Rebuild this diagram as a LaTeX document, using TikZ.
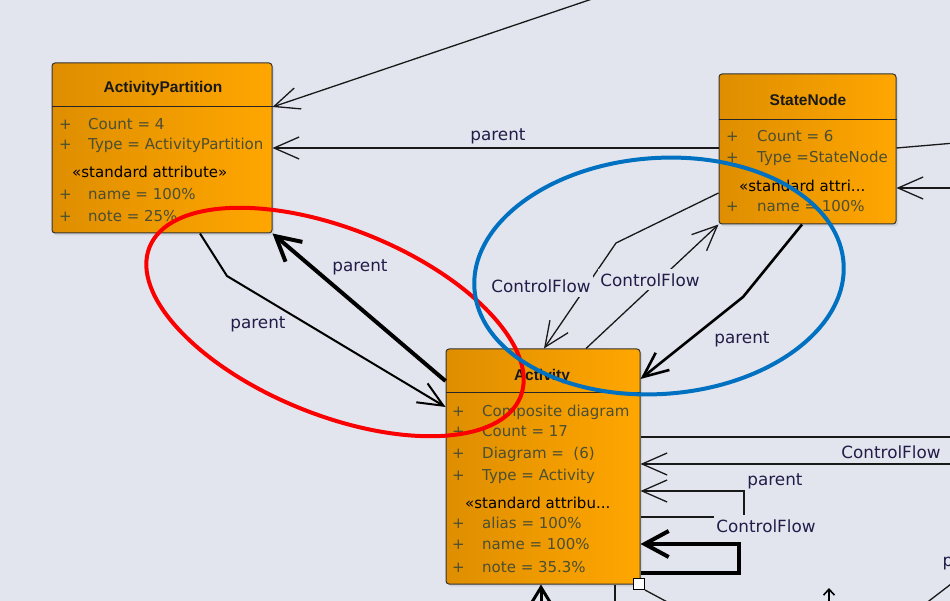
\documentclass[tikz,border=0pt]{standalone}
\usepackage{fontspec}
\setmainfont{DejaVu Sans}
\newfontfamily\titlefont{Liberation Sans}
\usetikzlibrary{arrows.meta,shadows}
\definecolor{bg}{RGB}{226,229,238}
\definecolor{boxl}{RGB}{222,142,0}
\definecolor{boxr}{RGB}{255,166,0}
\definecolor{attc}{RGB}{74,78,52}
\definecolor{lblc}{RGB}{35,28,72}
\definecolor{redc}{RGB}{250,0,0}
\definecolor{bluec}{RGB}{0,112,192}
\begin{document}
\begin{tikzpicture}[x=1pt,y=-1pt,
 umlbox/.style={draw=black!80, line width=1pt, rounded corners=3pt, left color=boxl, right color=boxr, inner sep=0pt,
   drop shadow={shadow xshift=2pt,shadow yshift=-2.5pt,opacity=0.18}},
 divider/.style={draw=black!85, line width=1pt},
 att/.style={font=\fontsize{15}{18}\selectfont, text=attc, anchor=base west, inner sep=0pt},
 ster/.style={font=\fontsize{15}{18}\selectfont, text=black, anchor=base west, inner sep=0pt},
 ttl/.style={font=\titlefont\fontsize{15.5}{18}\selectfont\bfseries, text=black!90, anchor=base, inner sep=0pt},
 lbl/.style={font=\fontsize{16.8}{20}\selectfont, text=lblc, inner sep=1.5pt},
 lblf/.style={lbl, fill=bg, inner xsep=2pt, inner ysep=4pt},
 link/.style={draw=black!90, line width=1.3pt, line join=miter},
 medlink/.style={draw=black, line width=2pt},
 semilink/.style={draw=black, line width=2.6pt},
 boldlink/.style={draw=black, line width=4pt},
 oarr/.style={-{Straight Barb[length=25pt,width=22pt]}},
 oarrb/.style={-{Straight Barb[length=24pt,width=26pt]}},
 sq/.style={draw=black, fill=white, line width=1pt, minimum size=11pt, inner sep=0pt}
]
\useasboundingbox (0,0) rectangle (950,601);
\fill[bg] (0,0) rectangle (950,601);

% ---------- boxes ----------
\node[umlbox, minimum width=220pt, minimum height=170pt] (ap) at (162,148) {};
\node[umlbox, minimum width=177pt, minimum height=150pt] (sn) at (807.5,149) {};
\node[umlbox, minimum width=194pt, minimum height=235pt] (act) at (543,466.5) {};

\draw[divider] (ap.west |- 0,107) -- (ap.east |- 0,107);
\draw[divider] (sn.west |- 0,120) -- (sn.east |- 0,120);
\draw[divider] (act.west |- 0,392) -- (act.east |- 0,392);

% ActivityPartition texts
\node[ttl] (apt) at (163,93) {ActivityPartition};
\node[att] (ap1p) at (59,130) {+};
\node[att] (ap1) at (88,130) {Count = 4};
\node[att] (ap2p) at (59,150) {+};
\node[att] (ap2) at (88,150) {Type = ActivityPartition};
\node[ster] (ap3) at (72,178) {«standard attribute»};
\node[att] (ap4p) at (59,200) {+};
\node[att] (ap4) at (88,200) {name = 100\%};
\node[att] (ap5p) at (59,222) {+};
\node[att] (ap5) at (88,222) {note = 25\%};

% StateNode texts
\node[ttl] (snt) at (808,106) {StateNode};
\node[att] (sn1p) at (726,142) {+};
\node[att] (sn1) at (757,142) {Count = 6};
\node[att] (sn2p) at (726,163) {+};
\node[att] (sn2) at (757,163) {Type =StateNode};
\node[ster] (sn3) at (739,192) {«standard attri...};
\node[att] (sn4p) at (726,212) {+};
\node[att] (sn4) at (757,212) {name = 100\%};

% Activity texts
\node[ttl] (actt) at (542,381) {Activity};
\node[att] (ac1p) at (452,416) {+};
\node[att] (ac1) at (482,416) {Composite diagram};
\node[att] (ac2p) at (452,436) {+};
\node[att] (ac2) at (482,436) {Count = 17};
\node[att] (ac3p) at (452,458) {+};
\node[att] (ac3) at (482,458) {Diagram =\ \ (6)};
\node[att] (ac4p) at (452,480) {+};
\node[att] (ac4) at (482,480) {Type = Activity};
\node[ster] (ac5) at (465,508) {«standard attribu...};
\node[att] (ac6p) at (452,528) {+};
\node[att] (ac6) at (482,528) {alias = 100\%};
\node[att] (ac7p) at (452,549) {+};
\node[att] (ac7) at (482,549) {name = 100\%};
\node[att] (ac8p) at (452,572) {+};
\node[att] (ac8) at (482,572) {note = 35.3\%};

\node[sq] (corner) at (639,584) {};

% ---------- connectors ----------
\coordinate (offtop) at (598,-3);
\draw[link, oarr] (offtop) -- (ap.east |- 0,107);

\draw[link, oarr] (sn.west |- 0,148) -- (ap.east |- 0,148);
\node[lbl] (l1) at (498,136) {parent};

\coordinate (b3) at (227,276);
\draw[medlink, oarr] (ap.south -| 200,0) -- (b3) -- (act.west |- 0,407);
\node[lbl] (l2) at (258,324) {parent};

\draw[boldlink, oarrb] (act.west |- 0,381) -- (ap.south east);
\node[lbl] (l3) at (360,267) {parent};

\coordinate (b5) at (616,243);
\draw[link, oarr] (sn.west |- 0,193) -- (b5) -- (act.north -| 544,0);
\node[lblf] (l4) at (541,286) {ControlFlow};

\draw[link, oarr] (act.north -| 586,0) -- (sn.south west);
\node[lblf] (l5) at (650,280) {ControlFlow};

\coordinate (b7) at (743,297);
\draw[semilink, oarr] (sn.south -| 802,0) -- (b7) -- (act.east |- 0,379);
\node[lbl] (l6) at (742,339) {parent};

% right of StateNode
\coordinate (snr1) at (955,143);
\coordinate (snr2) at (955,188);
\draw[link] (sn.east |- 0,148) -- (snr1);
\draw[link, oarr] (snr2) -- (sn.east |- 0,188);

% right of Activity
\coordinate (acr1) at (955,437);
\coordinate (acr2) at (955,464);
\draw[link] (act.east |- 0,437) -- (acr1);
\draw[link, oarr] (acr2) -- (act.east |- 0,464);
\node[lbl] (l7) at (891,452) {ControlFlow};

\coordinate (lp1) at (744,517);
\coordinate (lp2) at (744,491);
\draw[link, oarr] (act.east |- 0,517) -- (lp1) -- (lp2) -- (act.east |- 0,491);
\node[lbl] (l8) at (775,481) {parent};
\node[lblf, inner ysep=5pt] (l9) at (766,526) {ControlFlow};

\coordinate (tl1) at (739,573);
\coordinate (tl2) at (739,544);
\draw[boldlink, oarrb] (act.east |- 0,573) -- (tl1) -- (tl2) -- (act.east |- 0,544);

% bottom
\coordinate (bt1) at (541,610);
\draw[line width=3pt, -{Straight Barb[length=18pt,width=22pt]}] (bt1) -- (act.south -| 541,0);
\coordinate (bt2) at (615,606);
\draw[link] (act.south -| 615,0) -- (bt2);
\coordinate (bt3) at (671,604);
\draw[link] (corner.south east) -- (bt3);
\coordinate (bt4) at (829,606);
\coordinate (bt5) at (829,588);
\draw[line width=1.6pt, -{Straight Barb[length=6pt,width=11pt]}] (bt4) -- (bt5);
\coordinate (bt6) at (925,604);
\coordinate (bt7) at (955,581);
\draw[link] (bt6) -- (bt7);
\node[lbl, anchor=west] (l10) at (941,562) {parent};

% ---------- highlight ellipses ----------
\draw[redc, line width=4pt, shift={(335,322)}, rotate=-22] (0,0) ellipse [x radius=200pt, y radius=93pt];
\draw[bluec, line width=4pt, shift={(659,276)}, rotate=4] (0,0) ellipse [x radius=185pt, y radius=118pt];
\end{tikzpicture}
\end{document}
